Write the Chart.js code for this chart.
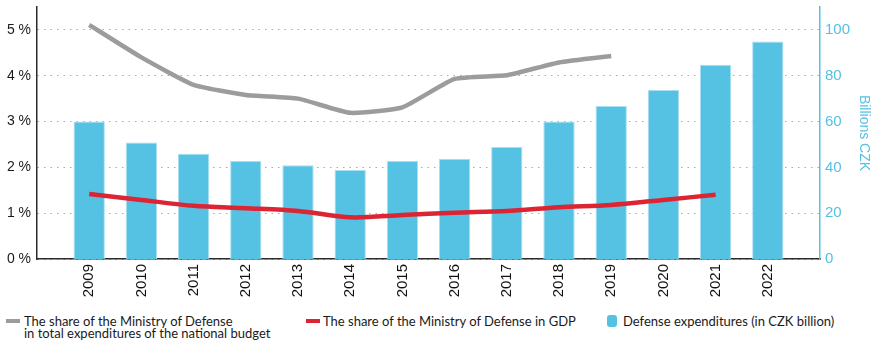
<!DOCTYPE html>
<html>
<head>
<meta charset="utf-8">
<script src="https://cdn.jsdelivr.net/npm/chart.js@4"></script>
<style>
  body { margin: 0; background: #fff; }
  .wrap { position: relative; width: 872px; height: 341px; }
  #myChart { position: absolute; left: 0; top: 0; }
  .legend { position: absolute; top: 315px; left: 0; width: 872px; font-family: Lato, "Noto Sans", sans-serif; font-size: 13px; color: #1a1a1a; line-height: 12px; }
  .item { position: absolute; top: 0; }
  .item .mark { position: absolute; }
  .item span.txt { position: absolute; white-space: nowrap; }
</style>
</head>
<body>
<div class="wrap">
  <canvas id="myChart" width="872" height="305"></canvas>
  <div class="legend">
    <div class="item" style="left:6px">
      <div class="mark" style="left:0;top:4px;width:14px;height:4px;background:#9b9d9d"></div>
      <span class="txt" style="left:18px;top:0">The share of the Ministry of Defense<br>in total expenditures of the national budget</span>
    </div>
    <div class="item" style="left:306px">
      <div class="mark" style="left:0;top:4px;width:14px;height:4px;background:#dc2433"></div>
      <span class="txt" style="left:17px;top:0">The share of the Ministry of Defense in GDP</span>
    </div>
    <div class="item" style="left:607px">
      <div class="mark" style="left:0;top:0;width:10px;height:12px;border-radius:3px;background:#55c1e3"></div>
      <span class="txt" style="left:16px;top:0">Defense expenditures (in CZK billion)</span>
    </div>
  </div>
</div>
<script>
// years shown on the axis; one empty slot on each side
const years = ['2009', '2010', '2011', '2012', '2013', '2014', '2015', '2016', '2017', '2018', '2019', '2020', '2021', '2022'];
// % of national budget
const budgetShare = [5.11, 4.40, 3.80, 3.58, 3.50, 3.19, 3.31, 3.93, 4.01, 4.29, 4.43, null, null, null];
// % of GDP
const gdpShare = [1.42, 1.29, 1.16, 1.11, 1.05, 0.91, 0.96, 1.01, 1.05, 1.13, 1.18, 1.29, 1.40, null];
// billions CZK
const expenditures = [60.0, 50.8, 45.9, 42.8, 40.9, 38.9, 42.8, 43.8, 48.9, 60.0, 66.8, 73.8, 84.8, 94.9];

function pad(arr) {
    return [null].concat(arr, [null]);
}

const labels = [''].concat(years, ['']);

// fixed side width, and no extra room for the top/bottom tick labels
function fitSide(width) {
    return scale => {
        scale.width = width;
        scale.paddingTop = 0;
        scale.paddingBottom = 0;
    };
}

const config = {
    data: {
        labels: labels,
        datasets: [{
            type: 'line',
            label: 'The share of the Ministry of Defense in total expenditures of the national budget',
            data: pad(budgetShare),
            borderColor: '#9b9d9d',
            borderWidth: 4.5,
            pointRadius: 0,
            tension: 0.15,
            yAxisID: 'y',
            order: 1
        }, {
            type: 'line',
            label: 'The share of the Ministry of Defense in GDP',
            data: pad(gdpShare),
            borderColor: '#dc2433',
            borderWidth: 4.5,
            pointRadius: 0,
            tension: 0.3,
            yAxisID: 'y',
            order: 0
        }, {
            type: 'bar',
            label: 'Defense expenditures (in CZK billion)',
            data: pad(expenditures),
            backgroundColor: '#55c1e3',
            borderColor: '#a9dff0',
            borderWidth: 1,
            barPercentage: 0.6,
            categoryPercentage: 1,
            yAxisID: 'y1',
            order: 2
        }]
    },
    options: {
        responsive: false,
        animation: false,
        layout: { padding: { top: 7, left: 0, right: 0, bottom: 0 } },
        plugins: {
            legend: { display: false },
            tooltip: { enabled: false }
        },
        scales: {
            x: {
                offset: false,
                grid: { display: false, drawTicks: false },
                border: { color: '#2b2b2b', width: 1.5 },
                ticks: {
                    minRotation: 90,
                    maxRotation: 90,
                    padding: 5,
                    autoSkip: false,
                    color: '#111',
                    font: { family: 'Liberation Sans', size: 15 }
                },
                afterFit: scale => {
                    scale.height = 46;
                    scale.paddingLeft = 0;
                    scale.paddingRight = 0;
                }
            },
            y: {
                position: 'left',
                min: 0,
                max: 5.5,
                grid: {
                    color: '#a8a8a8',
                    lineWidth: 1,
                    drawTicks: false
                },
                border: { color: '#2b2b2b', width: 1.5, dash: [1.5, 5] },
                ticks: {
                    stepSize: 1,
                    includeBounds: false,
                    padding: 6,
                    color: '#1a1a1a',
                    font: { family: 'Liberation Sans', size: 14 },
                    callback: v => v + ' %'
                },
                afterFit: fitSide(37)
            },
            y1: {
                position: 'right',
                min: 0,
                max: 110,
                grid: { display: false, drawTicks: false },
                border: { color: '#55c1e3', width: 1.5 },
                title: {
                    display: true,
                    text: 'Billions CZK',
                    color: '#55c1e3',
                    padding: { top: 0, bottom: 4 },
                    font: { family: 'Liberation Sans', size: 14 }
                },
                ticks: {
                    stepSize: 20,
                    includeBounds: false,
                    padding: 5,
                    color: '#55c1e3',
                    font: { family: 'Liberation Sans', size: 15 }
                },
                afterFit: fitSide(52)
            }
        }
    }
};

var myChart = new Chart(document.getElementById('myChart'), config);
</script>
</body>
</html>
